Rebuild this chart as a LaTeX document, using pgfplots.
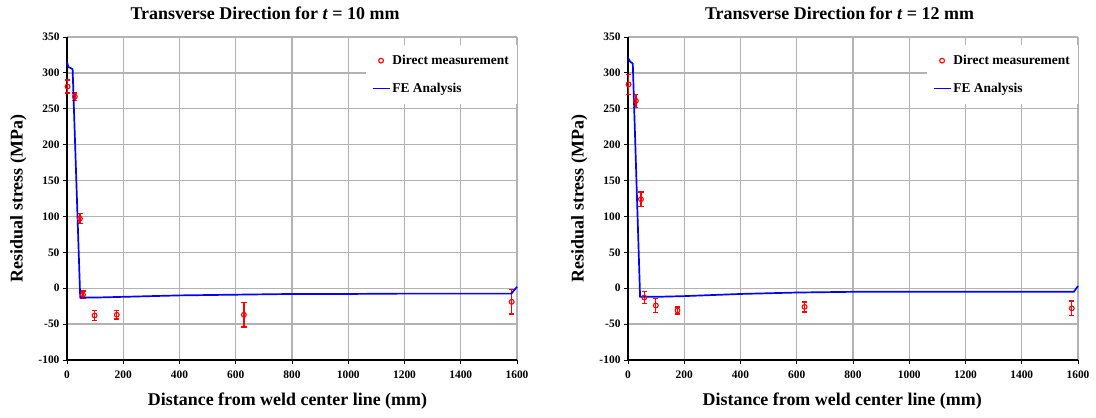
\documentclass[border=0pt]{standalone}
\usepackage{pgfplots}
\pgfplotsset{compat=1.18}
\usepackage{fontspec}
\setmainfont{Liberation Serif}
\pgfplotsset{
  myax/.style={
    scale only axis, width=450bp, height=323bp,
    xmin=0, xmax=1600, ymin=-100, ymax=350,
    xtick={0,200,...,1600}, ytick={-100,-50,...,350},
    grid=major, major grid style={draw=black!30, line width=1.3pt},
    axis x line*=bottom, axis y line*=left,
    axis line style={line width=1.4pt, black},
    tick align=outside, major tick length=4bp,
    tick style={black, line width=1pt},
    /pgf/number format/assume math mode=true,
    /pgf/number format/1000 sep={},
    ticklabel style={font=\fontsize{11.5}{13}\selectfont\bfseries},
    xticklabel style={yshift=-3bp},
    xlabel={Distance from weld center line (mm)},
    ylabel={Residual stress (MPa)},
    label style={font=\fontsize{18}{20}\selectfont\bfseries},
    xlabel style={at={(axis description cs:0.49,-0.127)}, anchor=center},
    ylabel style={at={(axis description cs:-0.108,0.5)}, anchor=center, rotate=0},
    title style={font=\fontsize{18}{20}\selectfont\bfseries, anchor=center},
    legend style={at={(1,0.975)}, anchor=north east, draw=none, fill=white,
      font=\fontsize{13.5}{15}\selectfont\bfseries, row sep=13bp,
      inner xsep=6bp, inner ysep=8bp},
    legend cell align=left,
    clip=false,
  },
}
\begin{document}
\begin{tikzpicture}
\useasboundingbox (-67bp,-58bp) rectangle (1029bp,360bp);
\begin{axis}[myax, title={Transverse Direction for \textit{t} = 10 mm},
  title style={at={(axis description cs:0.44,1.056)}}]
\addplot[only marks, mark=o, mark size=2.4bp, red, mark options={line width=1.1pt, red},
    error bars/.cd, y dir=both, y explicit,
    error bar style={red, line width=1.3pt},
    error mark options={rotate=90, mark size=2.6bp, line width=1.3pt, red}] coordinates {
  (2,281) +- (0,9)
  (28,267) +- (0,5)
  (46,97) +- (0,7)
  (57,-9) +- (0,5)
  (98,-38) +- (0,7)
  (177,-37) +- (0,6)
  (629,-37) +- (0,17)
  (1581,-19) +- (0,17)
};
\addlegendentry{Direct measurement}
\addplot[color=blue, line width=1.7pt, no marks] coordinates {
  (0,315) (5,308) (12,307) (20,305) (47,-13) (100,-13) (200,-12) (400,-10)
  (600,-9) (800,-8) (1000,-8) (1200,-7.5) (1580,-7.5) (1600,2)
};
\addlegendentry{FE Analysis}
\end{axis}
\begin{axis}[myax, xshift=561bp, title={Transverse Direction for \textit{t} = 12 mm},
  title style={at={(axis description cs:0.47,1.056)}},
  xlabel style={at={(axis description cs:0.476,-0.127)}}]
\addplot[only marks, mark=o, mark size=2.4bp, red, mark options={line width=1.1pt, red},
    error bars/.cd, y dir=both, y explicit,
    error bar style={red, line width=1.3pt},
    error mark options={rotate=90, mark size=2.6bp, line width=1.3pt, red}] coordinates {
  (2,284) +- (0,14)
  (28,261) +- (0,9)
  (46,124) +- (0,10)
  (58,-13) +- (0,8)
  (99,-24) +- (0,10)
  (176,-31) +- (0,5)
  (628,-26) +- (0,7)
  (1578,-28) +- (0,10)
};
\addlegendentry{Direct measurement}
\addplot[color=blue, line width=1.7pt, no marks] coordinates {
  (0,321) (7,316) (17,313) (43,-12) (100,-12) (200,-11) (400,-8)
  (600,-6) (800,-5) (1200,-5) (1585,-5) (1600,3)
};
\addlegendentry{FE Analysis}
\end{axis}
\end{tikzpicture}
\end{document}
